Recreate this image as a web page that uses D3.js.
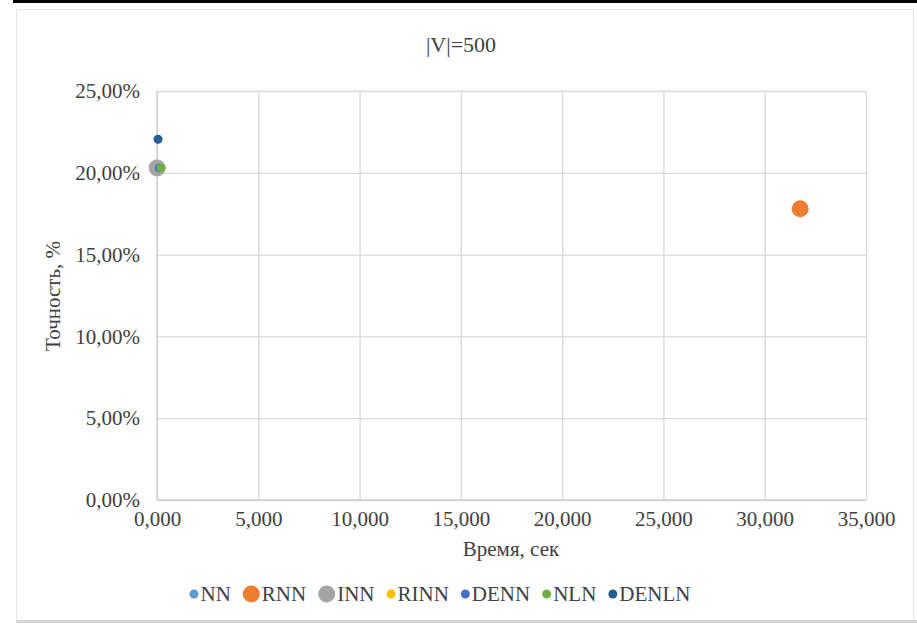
<!DOCTYPE html>
<html>
<head>
<meta charset="utf-8">
<script src="https://cdn.jsdelivr.net/npm/d3@7"></script>
<style>
  body { margin: 0; background: #fff; }
  text { font-family: "Liberation Serif", "Times New Roman", serif; fill: #404040; }
</style>
</head>
<body>
<script>
// series
const names = ['NN', 'RNN', 'INN', 'RINN', 'DENN', 'NLN', 'DENLN']
const times = [20, 31750, 5, 190, 110, 200, 50]          // seconds
const accuracy = [0.203, 0.178, 0.203, 0.203, 0.203, 0.203, 0.2205]
const colors = ['#5B9BD5', '#ED7D31', '#A5A5A5', '#FFC000', '#4472C4', '#70AD47', '#255E91']
const big = [false, true, true, false, false, false, false]

const xTicks = [0, 5000, 10000, 15000, 20000, 25000, 30000, 35000]
const yTicks = [0, 0.05, 0.10, 0.15, 0.20, 0.25]

const W = 917, H = 624
const plot = { left: 157, right: 866, top: 91, bottom: 500 }
const fs = 21

const svg = d3.select('body').append('svg')
    .attr('width', W)
    .attr('height', H)

// page line + chart frame
svg.append('rect').attr('x', 13).attr('y', 0).attr('width', W - 13).attr('height', 3).attr('fill', '#000')
svg.append('rect')
    .attr('x', 16.5).attr('y', 9.5)
    .attr('width', 897).attr('height', 611)
    .attr('fill', '#fff').attr('stroke', '#e4e4e4')
svg.append('rect').attr('x', 16).attr('y', 620).attr('width', W - 16).attr('height', 3).attr('fill', '#d6d6d6')

const x = d3.scaleLinear().domain([0, 35000]).range([plot.left, plot.right])
const y = d3.scaleLinear().domain([0, 0.25]).range([plot.bottom, plot.top])

const fmtX = v => d3.format(',.3f')(v / 1000).replace('.', ',')
const fmtY = v => d3.format('.2f')(v * 100).replace('.', ',') + '%'

// grid
svg.append('g')
    .attr('transform', 'translate(0,' + plot.bottom + ')')
    .call(d3.axisBottom(x).tickValues(xTicks).tickSize(-(plot.bottom - plot.top)).tickFormat(fmtX).tickPadding(11))
    .call(g => g.select('.domain').remove())
    .call(g => g.selectAll('.tick line').attr('stroke', '#d9d9d9').attr('stroke-width', 1.3))
    .call(g => g.selectAll('.tick text').attr('font-size', fs).attr('fill', '#404040')
        .attr('font-family', '"Liberation Serif", serif'))

svg.append('g')
    .attr('transform', 'translate(' + plot.left + ',0)')
    .call(d3.axisLeft(y).tickValues(yTicks).tickSize(-(plot.right - plot.left)).tickFormat(fmtY).tickPadding(17))
    .call(g => g.select('.domain').remove())
    .call(g => g.selectAll('.tick line').attr('stroke', '#d9d9d9').attr('stroke-width', 1.3))
    .call(g => g.selectAll('.tick text').attr('font-size', fs).attr('fill', '#404040')
        .attr('font-family', '"Liberation Serif", serif'))

// axis lines
svg.append('line').attr('x1', plot.left).attr('x2', plot.right).attr('y1', plot.bottom).attr('y2', plot.bottom)
    .attr('stroke', '#cfcfcf').attr('stroke-width', 1.5)
svg.append('line').attr('x1', plot.left).attr('x2', plot.left).attr('y1', plot.top).attr('y2', plot.bottom)
    .attr('stroke', '#cfcfcf').attr('stroke-width', 1.5)

// titles
svg.append('text').attr('x', 461).attr('y', 52).attr('text-anchor', 'middle')
    .attr('font-size', 22).text('|V|=500')
svg.append('text').attr('x', 511).attr('y', 556).attr('text-anchor', 'middle')
    .attr('font-size', fs).text('Время, сек')
svg.append('text').attr('transform', 'translate(60,296) rotate(-90)').attr('text-anchor', 'middle')
    .attr('font-size', fs).text('Точность, %')

// points
const data = names.map((n, i) => ({ name: n, t: times[i], a: accuracy[i], c: colors[i], big: big[i] }))

svg.append('g')
    .selectAll('circle')
    .data(data)
    .join('circle')
    .attr('cx', d => x(d.t))
    .attr('cy', d => y(d.a))
    .attr('r', d => d.big ? 8.5 : 4.5)
    .attr('fill', d => d.c)

// legend
const legend = svg.append('g')
let lx = 0
const items = legend.selectAll('g').data(data).join('g')
items.append('circle')
    .attr('cx', d => d.big ? 8.5 : 4.5)
    .attr('cy', 0)
    .attr('r', d => d.big ? 8.5 : 4.5)
    .attr('fill', d => d.c)
items.append('text')
    .attr('x', d => (d.big ? 17 : 9) + 2)
    .attr('y', 7)
    .attr('font-size', fs)
    .text(d => d.name)
items.each(function () {
    const w = this.getBBox().width
    d3.select(this).attr('transform', 'translate(' + lx + ',0)')
    lx += w + 12
})
legend.attr('transform', 'translate(' + (440 - (lx - 12) / 2) + ',594)')
</script>
</body>
</html>
